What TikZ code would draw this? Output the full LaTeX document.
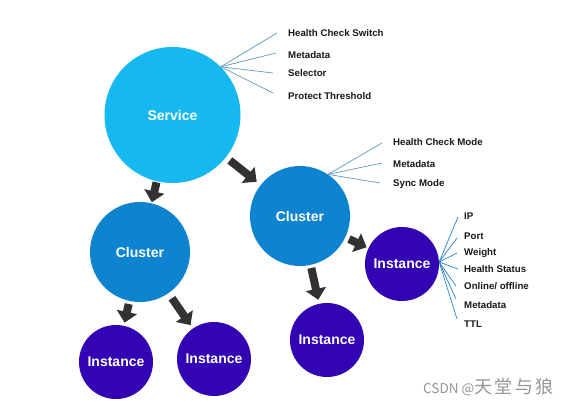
\documentclass[tikz,border=0pt]{standalone}
\usepackage{fontspec}
\setmainfont{Liberation Sans}
\newfontfamily\cjk{Noto Sans CJK SC}
\usetikzlibrary{arrows.meta}
\definecolor{svcblue}{RGB}{22,184,240}
\definecolor{clublue}{RGB}{14,132,208}
\definecolor{instpur}{RGB}{50,4,180}
\definecolor{fanline}{RGB}{95,155,190}
\definecolor{fanlinetwo}{RGB}{40,130,205}
\definecolor{arrowgray}{RGB}{50,50,50}
\definecolor{labtext}{RGB}{25,25,25}
\definecolor{wmark}{RGB}{150,150,150}
\begin{document}
\begin{tikzpicture}[x=1pt,y=-1pt,
 bubble/.style={circle, inner sep=0pt, text=white, font=\bfseries\fontsize{14}{16}\selectfont},
 svcnode/.style={bubble, fill=svcblue, minimum size=136pt},
 clunode/.style={bubble, fill=clublue, minimum size=100pt},
 instnode/.style={bubble, fill=instpur, minimum size=74pt},
 bigarrow/.style={draw=arrowgray, line width=8pt, -{Triangle[length=11pt,width=20pt]}, shorten <=3pt, shorten >=3pt},
 fan/.style={draw=fanline, line width=0.7pt},
 fanb/.style={draw=fanlinetwo, line width=0.7pt},
 attr/.style={anchor=west, inner sep=0pt, text=labtext, font=\bfseries\fontsize{9.7}{11}\selectfont}]
\useasboundingbox (0,0) rectangle (575,406);
\fill[white] (0,0) rectangle (575,406);

\node[svcnode] (svc) at (172.5,115) {Service};
\node[clunode] (cl1) at (140,252) {Cluster};
\node[clunode] (cl2) at (300,216) {Cluster};
\node[instnode] (i1) at (116,362) {Instance};
\node[instnode] (i2) at (214,359) {Instance};
\node[instnode] (i3) at (327,340) {Instance};
\node[instnode] (i4) at (402,264) {Instance};

\draw[bigarrow, shorten <=1pt, shorten >=1pt] (svc) -- (cl1);
\draw[bigarrow, shorten <=5pt, shorten >=5pt] (svc) -- (cl2);
\draw[bigarrow] (cl1) -- (i1);
\draw[bigarrow, shorten <=6pt, shorten >=4pt] (cl1) -- (i2);
\draw[bigarrow, shorten >=4pt] (cl2) -- (i3);
\draw[bigarrow, shorten <=4pt, shorten >=2pt] (cl2) -- (i4);

% Service attributes
\coordinate (sf) at (svc.45);
\foreach \n/\ex/\ey/\ly/\t in {s1/277/33/33/{Health Check Switch}, s2/276/53/55/{Metadata}, s3/273/73/73/{Selector}, s4/273/93/96/{Protect Threshold}}{
  \coordinate (\n e) at (\ex,\ey);
  \node[attr] (\n) at (288,\ly) {\t};
  \draw[fan] (sf) -- (\n e);
}

% Cluster attributes
\coordinate (cf) at (cl2.56);
\foreach \n/\ex/\ey/\ly/\t in {c1/382/143/142/{Health Check Mode}, c2/382/163/164/{Metadata}, c3/380/183/184/{Sync Mode}}{
  \coordinate (\n e) at (\ex,\ey);
  \node[attr] (\n) at (393,\ly) {\t};
  \draw[fan] (cf) -- (\n e);
}

% Instance attributes
\coordinate (inf) at (i4.3);
\foreach \n/\ex/\ey/\ly/\t in {a1/458/217/216/{IP}, a2/457/238/236/{Port}, a3/457/253/253/{Weight}, a4/458/269/269/{Health Status}, a5/456/286/286/{Online/ offline}, a6/456/299/305/{Metadata}, a7/457/319/324/{TTL}}{
  \coordinate (\n e) at (\ex,\ey);
  \node[attr] (\n) at (464,\ly) {\t};
  \draw[fanb] (inf) -- (\n e);
}

\node[anchor=west, inner sep=0pt, text=wmark, font=\cjk\fontsize{13.5}{16}\selectfont] (wm) at (423,387) {CSDN @{\fontsize{18}{20}\selectfont 天\hspace{2.5pt}堂\hspace{2.5pt}与\hspace{2.5pt}狼}};
\end{tikzpicture}
\end{document}
